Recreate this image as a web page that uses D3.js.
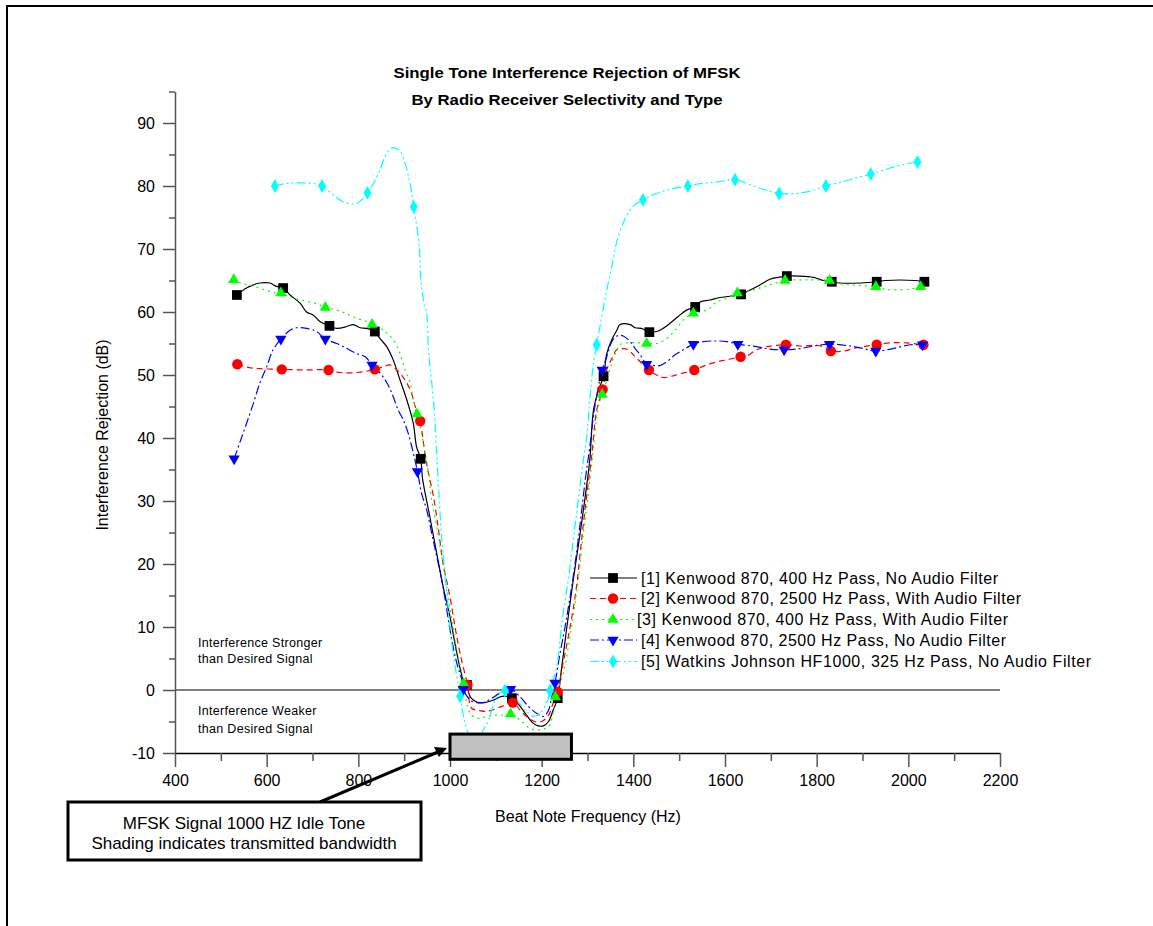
<!DOCTYPE html>
<html>
<head>
<meta charset="utf-8">
<script src="https://cdn.jsdelivr.net/npm/d3@7"></script>
<style>
  html, body { margin: 0; padding: 0; background: #fff; }
  svg { display: block; font-family: "Liberation Sans", Arial, sans-serif; }
</style>
</head>
<body>
<svg id="chart" width="1153" height="926"></svg>
<script>
// ---- Chart text ----
const titleLines = ["Single Tone Interference Rejection of MFSK", "By Radio Receiver Selectivity and Type"];
const xTitle = "Beat Note Frequency (Hz)";
const yTitle = "Interference Rejection (dB)";
const seriesNames = [
  "[1] Kenwood 870, 400 Hz Pass, No Audio Filter",
  "[2] Kenwood 870, 2500 Hz Pass, With Audio Filter",
  "[3] Kenwood 870, 400 Hz Pass, With Audio Filter",
  "[4] Kenwood 870, 2500 Hz Pass, No Audio Filter",
  "[5] Watkins Johnson HF1000, 325 Hz Pass, No Audio Filter"
];
const xTicks = [400, 600, 800, 1000, 1200, 1400, 1600, 1800, 2000, 2200];
const xMinorTicks = [500, 700, 900, 1100, 1300, 1500, 1700, 1900, 2100];
const yTicks = [-10, 0, 10, 20, 30, 40, 50, 60, 70, 80, 90];
const yMinorTicks = [-5, 5, 15, 25, 35, 45, 55, 65, 75, 85, 95];
const regionNotes = [["Interference Stronger", "than Desired Signal"], ["Interference Weaker", "than Desired Signal"]];
const boxNote = ["MFSK Signal 1000 HZ Idle Tone", "Shading indicates transmitted bandwidth"];
// transmitted bandwidth of the MFSK signal (Hz) and the dB span of its shaded bar
const bandHz = [1000, 1265];
const bandDb = [-7, -11];

// ---- Measured curves: [frequency Hz, rejection dB] ----
const s1Line = [[535,62.7],[556,63.8],[571,64.3],[585,64.6],[607,64.6],[620,64.1],[636,63.8],[651,62.7],[673,61.4],[687,60.0],[702,59.5],[716,58.5],[737,57.8],[753,57.4],[775,57.7],[789,58.0],[804,57.5],[818,57.4],[836,56.9],[847,55.8],[862,54.5],[876,52.4],[891,49.2],[906,46.0],[920,42.3],[927,38.6],[936,36.7],[940,33.6],[956,27.5],[971,21.7],[985,16.4],[1000,11.6],[1015,5.8],[1029,1.6],[1037,0.8],[1044,-1.1],[1058,-1.9],[1076,-2.0],[1095,-1.6],[1113,-1.0],[1135,-1.3],[1153,-2.6],[1167,-4.0],[1182,-5.3],[1193,-5.7],[1204,-5.7],[1215,-5.0],[1225,-3.2],[1235,-1.3],[1242,2.6],[1255,10],[1269,17.5],[1284,24.9],[1295,30.7],[1305,36.5],[1313,44.4],[1324,47.6],[1335,49.8],[1342,53.4],[1353,55.6],[1364,57.1],[1371,58.0],[1393,58.0],[1404,57.5],[1418,57.4],[1435,56.8],[1451,56.9],[1465,57.4],[1480,58.2],[1498,59.3],[1516,60.3],[1535,60.8],[1546,61.6],[1567,61.9],[1589,62.3],[1611,62.5],[1635,62.8],[1655,63.5],[1676,64.3],[1698,65.2],[1716,65.5],[1735,65.7],[1764,65.7],[1793,65.5],[1815,65.0],[1833,64.8],[1850,64.6],[1931,64.8],[1950,65.0],[2015,65.0],[2035,64.8]];
const s1Marks = [[535,62.7],[636,63.8],[737,57.8],[836,56.9],[936,36.7],[1037,0.8],[1135,-1.3],[1235,-1.3],[1335,49.8],[1435,56.8],[1535,60.8],[1635,62.8],[1735,65.7],[1833,64.8],[1931,64.8],[2035,64.8]];

const s2Line = [[536,51.7],[560,51.2],[585,51.0],[633,50.9],[680,50.8],[735,50.8],[760,50.4],[800,50.4],[836,50.9],[854,51.3],[869,51.6],[884,50.8],[902,49.2],[916,47.1],[924,45.0],[935,42.7],[945,37.6],[953,34.4],[964,30.7],[974,25.9],[985,20.1],[1000,14.8],[1011,10.0],[1022,5.8],[1038,0.8],[1047,-2.9],[1062,-3.2],[1076,-3.4],[1091,-3.2],[1113,-2.6],[1137,-2.0],[1153,-3.2],[1167,-4.2],[1185,-5.0],[1200,-5.0],[1215,-4.0],[1225,-2.1],[1235,-0.3],[1244,3.2],[1262,10],[1276,16.4],[1287,23.8],[1298,30.7],[1309,37.0],[1320,44.4],[1333,47.7],[1342,50.8],[1353,52.6],[1364,54.0],[1378,54.2],[1389,54.0],[1400,53.2],[1415,52.1],[1434,50.8],[1451,50.0],[1465,49.6],[1484,49.8],[1502,50.2],[1533,50.8],[1560,51.6],[1589,52.2],[1604,52.4],[1634,52.9],[1647,53.0],[1669,54.0],[1691,54.5],[1733,54.8],[1764,54.6],[1800,54.7],[1818,54.4],[1831,53.8],[1860,53.8],[1880,54.2],[1902,54.5],[1931,54.8],[1960,55.1],[1996,55.1],[2033,54.8]];
const s2Marks = [[536,51.7],[633,50.9],[735,50.8],[836,50.9],[935,42.7],[1038,0.8],[1137,-2.0],[1235,-0.3],[1333,47.7],[1434,50.8],[1533,50.8],[1634,52.9],[1733,54.8],[1831,53.8],[1931,54.8],[2033,54.8]];

const s3Line = [[528,65.1],[542,64.6],[560,64.3],[593,63.6],[614,63.1],[631,63.0],[655,62.3],[680,61.8],[709,61.3],[728,60.7],[753,60.3],[775,59.7],[796,59.0],[818,58.5],[830,58.0],[855,57.1],[876,55.6],[891,53.4],[902,50.8],[913,48.7],[920,46.0],[928,43.8],[942,39.2],[953,34.4],[960,30.2],[971,25.9],[982,21.2],[993,16.4],[1004,11.1],[1015,6.3],[1026,2.6],[1030,1.0],[1044,-3.7],[1062,-4.5],[1080,-4.2],[1098,-4.0],[1116,-4.0],[1132,-3.8],[1153,-4.8],[1175,-6.1],[1196,-6.3],[1215,-5.8],[1225,-3.7],[1230,-1.1],[1247,2.6],[1265,10],[1280,17.5],[1291,24.9],[1302,31.2],[1311,37.0],[1324,45.0],[1332,46.9],[1342,49.2],[1353,51.9],[1364,54.0],[1371,54.8],[1386,55.1],[1411,55.1],[1429,55.0],[1451,55.0],[1473,55.8],[1491,57.1],[1513,59.0],[1531,59.8],[1560,60.3],[1582,61.6],[1611,62.4],[1627,63.0],[1662,63.5],[1684,64.0],[1706,64.5],[1731,65.0],[1780,65.1],[1828,65.0],[1858,64.4],[1895,64.2],[1929,64.0],[1950,63.6],[2000,63.6],[2027,64.0]];
const s3Marks = [[528,65.1],[631,63.0],[728,60.7],[830,58.0],[928,43.8],[1030,1.0],[1132,-3.8],[1230,-1.1],[1332,46.9],[1429,55.0],[1531,59.8],[1627,63.0],[1731,65.0],[1828,65.0],[1929,64.0],[2027,64.0]];

const s4Line = [[529,36.7],[542,39.4],[556,42.3],[571,45.5],[585,48.7],[600,51.3],[614,54.0],[631,55.7],[651,57.1],[665,57.5],[687,57.4],[709,56.9],[728,55.7],[753,55.0],[775,54.2],[796,53.4],[815,52.9],[830,51.6],[851,50.0],[865,48.4],[876,46.6],[887,44.4],[898,42.9],[909,40.7],[920,37.6],[929,34.7],[938,31.2],[949,28.6],[960,24.9],[971,21.2],[982,17.5],[993,12.7],[1004,7.9],[1015,4.2],[1026,1.6],[1029,0.1],[1044,-1.6],[1058,-2.0],[1073,-2.0],[1091,-1.3],[1109,-0.5],[1132,0.1],[1153,-1.1],[1171,-2.6],[1189,-3.7],[1204,-4.2],[1215,-3.2],[1222,-1.1],[1229,1.1],[1240,5.8],[1251,10.0],[1262,14.8],[1273,20.1],[1284,26.4],[1295,33.3],[1305,38.6],[1316,45.0],[1332,50.8],[1342,52.9],[1353,55.3],[1364,56.2],[1378,56.2],[1393,55.3],[1404,54.2],[1415,53.2],[1429,51.7],[1444,51.5],[1458,51.5],[1473,52.1],[1491,53.2],[1509,54.0],[1531,54.9],[1553,55.3],[1582,55.4],[1604,55.3],[1628,54.9],[1669,54.5],[1698,54.1],[1729,54.0],[1764,54.2],[1793,54.6],[1828,54.9],[1873,54.6],[1902,54.2],[1929,53.8],[1967,54.2],[2004,54.8],[2031,54.8]];
const s4Marks = [[529,36.7],[631,55.7],[728,55.7],[830,51.6],[929,34.7],[1029,0.1],[1132,0.1],[1229,1.1],[1332,50.8],[1429,51.7],[1531,54.9],[1628,54.9],[1729,54.0],[1828,54.9],[1929,53.8],[2031,54.8]];

const s5Line = [[618,80.0],[643,80.4],[702,80.4],[721,80.0],[745,78.6],[767,77.5],[796,77.2],[820,78.9],[833,80.4],[847,82.5],[862,85.2],[876,86.1],[891,85.5],[902,83.6],[913,80.4],[921,76.7],[933,70.5],[936,65.6],[942,61.9],[949,59.8],[953,54.0],[958,50.3],[965,45.0],[971,37.5],[976,31.0],[980,26.0],[985,21.7],[993,15.3],[1000,10.0],[1007,5.8],[1022,-1.0],[1033,-5.3],[1045,-7.5],[1060,-7.8],[1073,-6.3],[1084,-4.8],[1102,-1.1],[1120,-0.1],[1145,-1.6],[1164,-3.2],[1182,-4.2],[1196,-3.7],[1211,-2.1],[1218,-0.1],[1233,3.7],[1240,7.9],[1247,12.2],[1258,17.5],[1269,23.8],[1280,30.2],[1291,36.5],[1298,40.0],[1305,46.0],[1313,51.9],[1320,54.8],[1335,60.8],[1342,63.5],[1353,67.2],[1364,71.2],[1380,74.5],[1400,76.8],[1421,77.8],[1450,78.8],[1480,79.5],[1519,80.0],[1546,80.4],[1580,80.6],[1622,81.0],[1662,80.0],[1691,79.3],[1718,78.8],[1749,78.8],[1786,79.2],[1820,80.0],[1858,80.7],[1887,81.3],[1918,81.9],[1945,82.5],[1982,83.3],[2020,83.8]];
const s5Marks = [[618,80.0],[721,80.0],[820,78.9],[921,76.7],[1022,-1.0],[1120,-0.1],[1218,-0.1],[1320,54.8],[1421,77.8],[1519,80.0],[1622,81.0],[1718,78.8],[1820,80.0],[1918,81.9],[2020,83.8]];

// ---- Styling per series ----
const seriesColors = ["#000000", "#ff0000", "#00ff00", "#0000ff", "#00ffff"];
const seriesDash = [null, "6,4", "2,4", "9,3,2,3", "9,3,2,3,2,3"];
const seriesSymbols = ["square", "circle", "triangle", "triangleDown", "diamond"];

const lines = [s1Line, s2Line, s3Line, s4Line, s5Line];
const marks = [s1Marks, s2Marks, s3Marks, s4Marks, s5Marks];

const svg = d3.select("#chart");
const font = '"Liberation Sans", Arial, sans-serif';

// page frame
svg.append("path").attr("d", "M7,926 V6 H1153").attr("fill", "none").attr("stroke", "#000").attr("stroke-width", 2);

const x = d3.scaleLinear().domain([400, 2200]).range([175, 1000]);
const y = d3.scaleLinear().domain([-10, 95]).range([753, 91.5]);

// zero reference line
svg.append("line")
  .attr("x1", x(400)).attr("x2", x(2200)).attr("y1", y(0)).attr("y2", y(0))
  .attr("stroke", "#808080").attr("stroke-width", 2);

// axes (plain hyphen for negative labels)
const plain = d => String(d);
const yAxis = svg.append("g").attr("transform", `translate(${x(400)},0)`)
  .call(d3.axisLeft(y).tickValues(yTicks).tickSize(12).tickSizeOuter(0).tickPadding(8).tickFormat(plain));
svg.append("g").attr("transform", `translate(${x(400)},0)`)
  .call(d3.axisLeft(y).tickValues(yMinorTicks).tickSize(6).tickSizeOuter(0).tickFormat(""))
  .call(g => g.select(".domain").remove());
const xAxis = svg.append("g").attr("transform", `translate(0,${y(-10)})`)
  .call(d3.axisBottom(x).tickValues(xTicks).tickSize(14).tickSizeOuter(0).tickPadding(8).tickFormat(plain));
svg.append("g").attr("transform", `translate(0,${y(-10)})`)
  .call(d3.axisBottom(x).tickValues(xMinorTicks).tickSize(8).tickSizeOuter(0).tickFormat(""))
  .call(g => g.select(".domain").remove());

svg.selectAll(".tick text").attr("font-family", font).attr("font-size", 16).attr("fill", "#000");
yAxis.select(".domain").attr("stroke", "#555").attr("stroke-width", 1.5);
xAxis.select(".domain").attr("stroke", "#000").attr("stroke-width", 1.5);
svg.selectAll(".tick line").attr("stroke", "#555").attr("stroke-width", 1.5);

// curves
const lineGen = d3.line().x(d => x(d[0])).y(d => y(d[1])).curve(d3.curveCatmullRom.alpha(0.5));
const symbolTypes = {
  square: d3.symbolSquare, circle: d3.symbolCircle, triangle: d3.symbolTriangle,
  triangleDown: d3.symbolTriangle, diamond: d3.symbolDiamond
};
const symbolSizes = { square: 95, circle: 85, triangle: 55, triangleDown: 55, diamond: 55 };

function drawSymbol(g, kind, color, cx, cy) {
  g.append("path")
    .attr("d", d3.symbol().type(symbolTypes[kind]).size(symbolSizes[kind])())
    .attr("transform", `translate(${cx},${cy})` + (kind === "triangleDown" ? " rotate(180)" : ""))
    .attr("fill", color);
}

lines.forEach((data, i) => {
  svg.append("path").datum(data)
    .attr("d", lineGen)
    .attr("fill", "none")
    .attr("stroke", seriesColors[i])
    .attr("stroke-width", 1.2)
    .attr("stroke-dasharray", seriesDash[i]);
});
marks.forEach((data, i) => {
  const g = svg.append("g");
  data.forEach(d => drawSymbol(g, seriesSymbols[i], seriesColors[i], x(d[0]), y(d[1])));
});

// shaded transmitted bandwidth, drawn over the curves
svg.append("rect")
  .attr("x", x(bandHz[0])).attr("y", y(bandDb[0]))
  .attr("width", x(bandHz[1]) - x(bandHz[0])).attr("height", y(bandDb[1]) - y(bandDb[0]))
  .attr("fill", "#c0c0c0").attr("stroke", "#000").attr("stroke-width", 3);

// title
const titleWidths = [347, 311];
titleLines.forEach((t, i) => {
  svg.append("text").attr("x", 567).attr("y", 78 + i * 27)
    .attr("text-anchor", "middle").attr("font-family", font).attr("font-weight", "bold")
    .attr("font-size", 15).attr("textLength", titleWidths[i]).attr("lengthAdjust", "spacingAndGlyphs")
    .text(t);
});

// axis titles
svg.append("text").attr("x", 588).attr("y", 822).attr("text-anchor", "middle")
  .attr("font-family", font).attr("font-size", 16).text(xTitle);
svg.append("text").attr("transform", "translate(108,435) rotate(-90)").attr("text-anchor", "middle")
  .attr("font-family", font).attr("font-size", 16).text(yTitle);

// region notes either side of 0 dB
const noteY = [[647, 663], [715, 733]];
regionNotes.forEach((pair, i) => {
  pair.forEach((t, j) => {
    svg.append("text").attr("x", 198).attr("y", noteY[i][j])
      .attr("font-family", font).attr("font-size", 12.5).attr("letter-spacing", 0.3).text(t);
  });
});

// legend
const legendRowY = [578, 598.5, 619.5, 640, 661.5];
const legendTextX = [641, 641, 637, 641, 641];
const legendWidths = [357, 380, 371, 365, 450];
seriesNames.forEach((name, i) => {
  const g = svg.append("g");
  g.append("line").attr("x1", 590).attr("x2", 637).attr("y1", legendRowY[i]).attr("y2", legendRowY[i])
    .attr("stroke", seriesColors[i]).attr("stroke-width", 1.2).attr("stroke-dasharray", seriesDash[i]);
  drawSymbol(g, seriesSymbols[i], seriesColors[i], 613, legendRowY[i]);
  g.append("text").attr("x", legendTextX[i]).attr("y", legendRowY[i] + 5.5)
    .attr("font-family", font).attr("font-size", 16)
    .attr("textLength", legendWidths[i]).attr("lengthAdjust", "spacing").text(name);
});

// callout box with arrow to the shaded band
svg.append("line").attr("x1", 320).attr("y1", 802).attr("x2", 438).attr("y2", 752)
  .attr("stroke", "#000").attr("stroke-width", 3);
svg.append("path").attr("d", "M447,748 L434,747 L439,757 Z").attr("fill", "#000");
svg.append("rect").attr("x", 68).attr("y", 802).attr("width", 353).attr("height", 58)
  .attr("fill", "#fff").attr("stroke", "#000").attr("stroke-width", 3);
boxNote.forEach((t, i) => {
  svg.append("text").attr("x", 244).attr("y", 829 + i * 20).attr("text-anchor", "middle")
    .attr("font-family", font).attr("font-size", 17).text(t);
});
</script>
</body>
</html>
